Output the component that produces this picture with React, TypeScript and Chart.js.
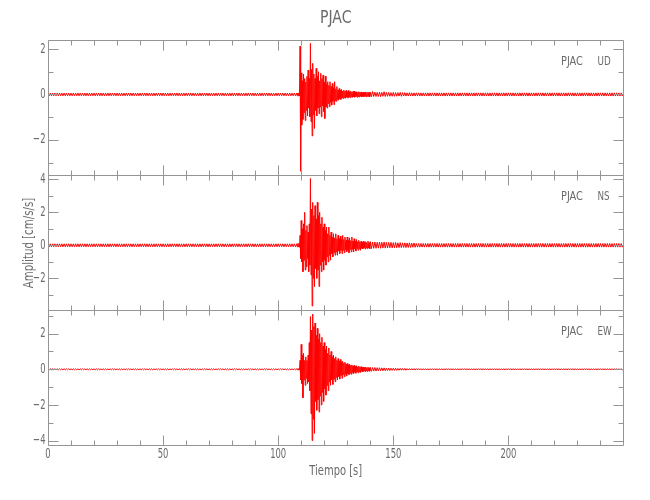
import { useEffect, useRef } from 'react';
import { Chart, registerables } from 'chart.js';

Chart.register(...registerables);

// ---------- data ----------
const title = 'PJAC';
const station = 'PJAC';
const components = ['UD', 'NS', 'EW'];
const xTitle = 'Tiempo [s]';
const yTitle = 'Amplitud [cm/s/s]';

const xMin = 0;
const xMax = 250;
const xMajorTicks = [0, 50, 100, 150, 200];
const xMinorTicks = [10, 20, 30, 40, 60, 70, 80, 90, 110, 120, 130, 140, 160, 170, 180, 190, 210, 220, 230, 240];

// y ranges and ticks per panel
const udRange = [-3.55, 2.4];
const nsRange = [-3.92, 4.26];
const ewRange = [-4.25, 3.33];
const udMajor = [2, 0, -2];
const udMinor = [1, -1, -3];
const nsMajor = [4, 2, 0, -2];
const nsMinor = [3, 1, -1, -3];
const ewMajor = [2, 0, -2, -4];
const ewMinor = [3, 1, -1, -3];

// half-second envelope (max / min) of the strong-motion window, t = 108.0 .. 139.5 s
const fineStart = 108;
const udFineHi = [0.06, 0.06, 0.07, 2.13, 0.95, 0.60, 0.90, 0.70, 0.55, 0.80, 1.07, 0.70, 2.25, 1.10, 1.37, 0.90, 0.70, 1.15, 0.80, 1.00, 0.60, 0.93, 0.70, 0.85, 0.55, 0.80, 0.45, 0.56, 0.40, 0.56, 0.35, 0.48, 0.30, 0.56, 0.25, 0.35, 0.20, 0.26, 0.18, 0.22, 0.15, 0.19, 0.14, 0.18, 0.12, 0.17, 0.11, 0.14, 0.10, 0.13, 0.15, 0.10, 0.12, 0.09, 0.12, 0.10, 0.11, 0.08, 0.10, 0.09, 0.11, 0.08, 0.10, 0.09];
const udFineLo = [-0.06, -0.06, -0.07, -3.38, -1.35, -1.10, -0.80, -1.15, -0.70, -0.95, -0.60, -0.98, -1.20, -1.83, -0.90, -1.50, -0.70, -0.95, -0.60, -0.85, -0.55, -0.98, -0.50, -0.75, -1.06, -0.55, -0.60, -0.40, -0.54, -0.35, -0.47, -0.30, -0.45, -0.28, -0.30, -0.22, -0.25, -0.18, -0.22, -0.15, -0.18, -0.14, -0.17, -0.12, -0.16, -0.12, -0.14, -0.10, -0.13, -0.10, -0.12, -0.09, -0.12, -0.10, -0.11, -0.08, -0.10, -0.09, -0.10, -0.08, -0.10, -0.08, -0.09, -0.10];
const nsFineHi = [0.09, 0.10, 0.12, 0.60, 1.50, 1.00, 1.30, 2.00, 0.90, 1.20, 0.80, 1.30, 4.05, 2.20, 2.60, 1.80, 2.40, 1.60, 2.60, 1.80, 2.00, 1.30, 1.70, 1.10, 1.30, 0.90, 1.10, 0.70, 1.10, 0.60, 0.80, 0.50, 0.70, 0.45, 0.70, 0.40, 0.60, 0.40, 0.55, 0.35, 0.60, 0.35, 0.50, 0.30, 0.50, 0.30, 0.45, 0.28, 0.50, 0.25, 0.40, 0.25, 0.35, 0.22, 0.30, 0.20, 0.25, 0.18, 0.25, 0.17, 0.22, 0.16, 0.25, 0.16];
const nsFineLo = [-0.09, -0.09, -0.12, -0.80, -1.00, -1.60, -0.90, -1.50, -1.30, -0.80, -1.60, -1.20, -1.80, -3.68, -2.00, -2.50, -1.40, -2.00, -1.50, -2.50, -1.20, -1.60, -1.00, -1.50, -0.90, -1.20, -0.70, -1.00, -0.60, -0.90, -0.50, -0.70, -0.45, -0.60, -0.40, -0.60, -0.35, -0.50, -0.30, -0.50, -0.30, -0.45, -0.28, -0.40, -0.30, -0.45, -0.25, -0.40, -0.25, -0.40, -0.22, -0.35, -0.20, -0.30, -0.20, -0.30, -0.18, -0.22, -0.17, -0.22, -0.16, -0.20, -0.16, -0.22];
const ewFineHi = [0.03, 0.03, 0.05, 0.50, 1.40, 0.80, 0.90, 0.50, 0.70, 0.50, 0.80, 1.50, 2.96, 2.20, 3.10, 2.40, 2.60, 1.90, 2.30, 1.70, 2.00, 1.50, 1.80, 1.30, 1.50, 1.10, 1.30, 0.90, 1.20, 0.80, 1.00, 0.70, 0.80, 0.60, 0.70, 0.50, 0.60, 0.45, 0.55, 0.40, 0.45, 0.35, 0.40, 0.30, 0.32, 0.25, 0.28, 0.22, 0.25, 0.18, 0.22, 0.16, 0.20, 0.14, 0.18, 0.13, 0.15, 0.11, 0.13, 0.10, 0.12, 0.09, 0.12, 0.08];
const ewFineLo = [-0.03, -0.03, -0.05, -0.60, -0.80, -1.60, -0.60, -0.90, -0.50, -0.80, -0.70, -1.20, -2.50, -4.00, -2.80, -3.60, -1.80, -2.30, -1.70, -2.40, -1.50, -2.00, -1.30, -1.80, -1.10, -1.45, -0.90, -1.20, -0.70, -0.90, -0.60, -0.85, -0.55, -0.70, -0.45, -0.60, -0.40, -0.55, -0.35, -0.50, -0.30, -0.42, -0.28, -0.38, -0.24, -0.30, -0.22, -0.28, -0.18, -0.25, -0.16, -0.22, -0.14, -0.20, -0.13, -0.18, -0.11, -0.15, -0.10, -0.13, -0.09, -0.12, -0.08, -0.11];

// one-second envelope of the late coda, t = 140 .. 159 s
const coarseStart = 140;
const udCoarseHi = [0.10, 0.13, 0.10, 0.09, 0.10, 0.09, 0.12, 0.09, 0.09, 0.08, 0.09, 0.08, 0.08, 0.09, 0.08, 0.08, 0.07, 0.08, 0.07, 0.07];
const udCoarseLo = [-0.10, -0.09, -0.09, -0.09, -0.10, -0.08, -0.09, -0.08, -0.08, -0.08, -0.08, -0.08, -0.07, -0.08, -0.07, -0.07, -0.07, -0.07, -0.07, -0.07];
const nsCoarseHi = [0.22, 0.20, 0.20, 0.18, 0.20, 0.18, 0.20, 0.18, 0.17, 0.18, 0.16, 0.17, 0.15, 0.16, 0.15, 0.15, 0.14, 0.15, 0.13, 0.14];
const nsCoarseLo = [-0.20, -0.18, -0.18, -0.17, -0.18, -0.16, -0.17, -0.16, -0.15, -0.16, -0.15, -0.15, -0.14, -0.14, -0.13, -0.14, -0.13, -0.13, -0.12, -0.12];
const ewCoarseHi = [0.11, 0.10, 0.10, 0.09, 0.09, 0.08, 0.08, 0.07, 0.07, 0.06, 0.06, 0.06, 0.05, 0.05, 0.05, 0.05, 0.04, 0.04, 0.04, 0.04];
const ewCoarseLo = [-0.11, -0.10, -0.10, -0.09, -0.09, -0.08, -0.08, -0.07, -0.07, -0.06, -0.06, -0.06, -0.05, -0.05, -0.05, -0.05, -0.04, -0.04, -0.04, -0.04];

// background noise amplitude per 10-s segment (0-10, 10-20, ... 240-250 s)
const udNoise = [0.06, 0.06, 0.06, 0.06, 0.06, 0.06, 0.06, 0.06, 0.06, 0.06, 0.06, 0.06, 0.07, 0.07, 0.07, 0.07, 0.07, 0.07, 0.07, 0.07, 0.07, 0.07, 0.07, 0.07, 0.07];
const nsNoise = [0.09, 0.09, 0.09, 0.09, 0.09, 0.09, 0.09, 0.09, 0.09, 0.09, 0.09, 0.12, 0.12, 0.12, 0.12, 0.12, 0.11, 0.11, 0.11, 0.11, 0.11, 0.11, 0.11, 0.11, 0.11];
const ewNoise = [0.03, 0.03, 0.03, 0.03, 0.03, 0.03, 0.03, 0.03, 0.03, 0.03, 0.03, 0.04, 0.04, 0.04, 0.04, 0.04, 0.035, 0.035, 0.035, 0.035, 0.035, 0.035, 0.035, 0.035, 0.035];

// ---------- styles ----------
const TRACE_COLOR = 'rgb(255,0,0)';
const AXIS_COLOR = '#959595';
const TEXT_COLOR = '#6a6a6a';
const FONT = '"DejaVu Sans"';

type Pt = { x: number; y: number };

function buildTrace(
  fineHi: number[],
  fineLo: number[],
  coarseHi: number[],
  coarseLo: number[],
  noise: number[]
) {
  const pts: Pt[] = [];
  const fineEnd = fineStart + fineHi.length / 2;
  const coarseEnd = coarseStart + coarseHi.length;
  for (let s = xMin; s < xMax; s++) {
    if (s >= fineStart && s < fineEnd) {
      for (let j = 0; j < 2; j++) {
        const k = (s - fineStart) * 2 + j;
        const t = s + j * 0.5;
        pts.push({ x: t, y: fineHi[k] });
        pts.push({ x: t + 0.25, y: fineLo[k] });
      }
    } else if (s >= coarseStart && s < coarseEnd) {
      const k = s - coarseStart;
      pts.push({ x: s, y: coarseHi[k] });
      pts.push({ x: s + 0.5, y: coarseLo[k] });
    } else {
      const n = noise[Math.floor(s / 10)];
      pts.push({ x: s, y: n });
      pts.push({ x: s + 0.5, y: -n });
    }
  }
  pts.push({ x: xMax, y: 0 });
  return pts;
}

function drawText(
  ctx: CanvasRenderingContext2D,
  text: string,
  x: number,
  y: number,
  size: number,
  align: CanvasTextAlign,
  sx: number,
  rot = 0
) {
  ctx.save();
  ctx.translate(x, y);
  if (rot) ctx.rotate(rot);
  ctx.scale(sx, 1);
  ctx.font = `${size}px ${FONT}`;
  ctx.textAlign = align;
  ctx.textBaseline = 'middle';
  ctx.fillStyle = TEXT_COLOR;
  ctx.fillText(text, 0, 0);
  ctx.restore();
}

const fmt = (v: number) => (v < 0 ? '\u2212' + Math.abs(v) : String(v));

const panels = [
  { id: 'y1', comp: components[0], major: udMajor, minor: udMinor },
  { id: 'y2', comp: components[1], major: nsMajor, minor: nsMinor },
  { id: 'y3', comp: components[2], major: ewMajor, minor: ewMinor },
];

const framePlugin = {
  id: 'seismoFrame',
  afterDraw(chart: any) {
    const ctx: CanvasRenderingContext2D = chart.ctx;
    const xs = chart.scales.x;
    const left = Math.round(xs.left) + 0.5;
    const right = Math.round(xs.right) - 0.5;
    ctx.save();
    ctx.strokeStyle = AXIS_COLOR;
    ctx.lineWidth = 1;
    let lastBottom = 0;
    let firstTop = 1e9;
    panels.forEach((p) => {
      const ys = chart.scales[p.id];
      const top = Math.round(ys.top) + 0.5;
      const bottom = Math.round(ys.bottom) + 0.5;
      lastBottom = Math.max(lastBottom, bottom);
      firstTop = Math.min(firstTop, top);
      ctx.beginPath();
      ctx.rect(left, top, right - left, bottom - top);
      const xt = (vals: number[], len: number) => {
        vals.forEach((v) => {
          const px = Math.round(xs.getPixelForValue(v)) + 0.5;
          ctx.moveTo(px, bottom);
          ctx.lineTo(px, bottom - len);
          ctx.moveTo(px, top);
          ctx.lineTo(px, top + len);
        });
      };
      xt(xMajorTicks, 10);
      xt(xMinorTicks, 5);
      const yt = (vals: number[], len: number) => {
        vals.forEach((v) => {
          const py = Math.round(ys.getPixelForValue(v)) + 0.5;
          ctx.moveTo(left, py);
          ctx.lineTo(left + len, py);
          ctx.moveTo(right, py);
          ctx.lineTo(right - len, py);
        });
      };
      yt(p.major, 10);
      yt(p.minor, 5);
      ctx.stroke();
      p.major.forEach((v) => {
        drawText(ctx, fmt(v), xs.left - 2.5, ys.getPixelForValue(v), 14, 'right', 0.6);
      });
      drawText(ctx, station, xs.right - 62.5, ys.top + 21.7, 12.5, 'left', 0.78);
      drawText(ctx, p.comp, xs.right - 26, ys.top + 21.7, 12.5, 'left', 0.7);
    });
    xMajorTicks.forEach((v) => {
      drawText(ctx, String(v), xs.getPixelForValue(v), lastBottom + 8.5, 14, 'center', 0.6);
    });
    const cx = (xs.left + xs.right) / 2;
    drawText(ctx, xTitle, cx, lastBottom + 26, 14, 'center', 0.71);
    drawText(ctx, title, cx, firstTop - 22, 18, 'center', 0.78);
    drawText(ctx, yTitle, 29, (firstTop + lastBottom) / 2, 14, 'center', 0.73, -Math.PI / 2);
    ctx.restore();
  },
};

export default function App() {
  const ref = useRef<HTMLCanvasElement>(null);
  useEffect(() => {
    document.body.style.margin = '0';
    const canvas = ref.current;
    if (!canvas) return;
    const lineDs = (data: Pt[], yAxisID: string) => ({
      data,
      yAxisID,
      xAxisID: 'x',
      borderColor: TRACE_COLOR,
      borderWidth: 1,
      borderJoinStyle: 'bevel' as const,
      pointRadius: 0,
      fill: false,
      tension: 0,
    });
    const chart = new Chart(canvas, {
      type: 'line',
      data: {
        datasets: [
          lineDs(buildTrace(udFineHi, udFineLo, udCoarseHi, udCoarseLo, udNoise), 'y1'),
          lineDs(buildTrace(nsFineHi, nsFineLo, nsCoarseHi, nsCoarseLo, nsNoise), 'y2'),
          lineDs(buildTrace(ewFineHi, ewFineLo, ewCoarseHi, ewCoarseLo, ewNoise), 'y3'),
        ],
      },
      options: {
        animation: false,
        responsive: false,
        devicePixelRatio: 1,
        parsing: false,
        normalized: true,
        layout: { padding: { left: 48, right: 26.5, top: 40, bottom: 55 } },
        scales: {
          x: { type: 'linear', min: xMin, max: xMax, display: false },
          y3: { type: 'linear', min: ewRange[0], max: ewRange[1], display: false, stack: 'traces', stackWeight: 1, position: 'left' },
          y2: { type: 'linear', min: nsRange[0], max: nsRange[1], display: false, stack: 'traces', stackWeight: 1, position: 'left' },
          y1: { type: 'linear', min: udRange[0], max: udRange[1], display: false, stack: 'traces', stackWeight: 1, position: 'left' },
        },
        plugins: {
          legend: { display: false },
          tooltip: { enabled: false },
          title: { display: false },
        },
      } as any,
      plugins: [framePlugin],
    });
    return () => chart.destroy();
  }, []);
  return (
    <div style={{ position: 'absolute', left: 0, top: 0, width: 650, height: 500, background: '#fff' }}>
      <canvas ref={ref} width={650} height={500} style={{ display: 'block', width: 650, height: 500 }} />
    </div>
  );
}
